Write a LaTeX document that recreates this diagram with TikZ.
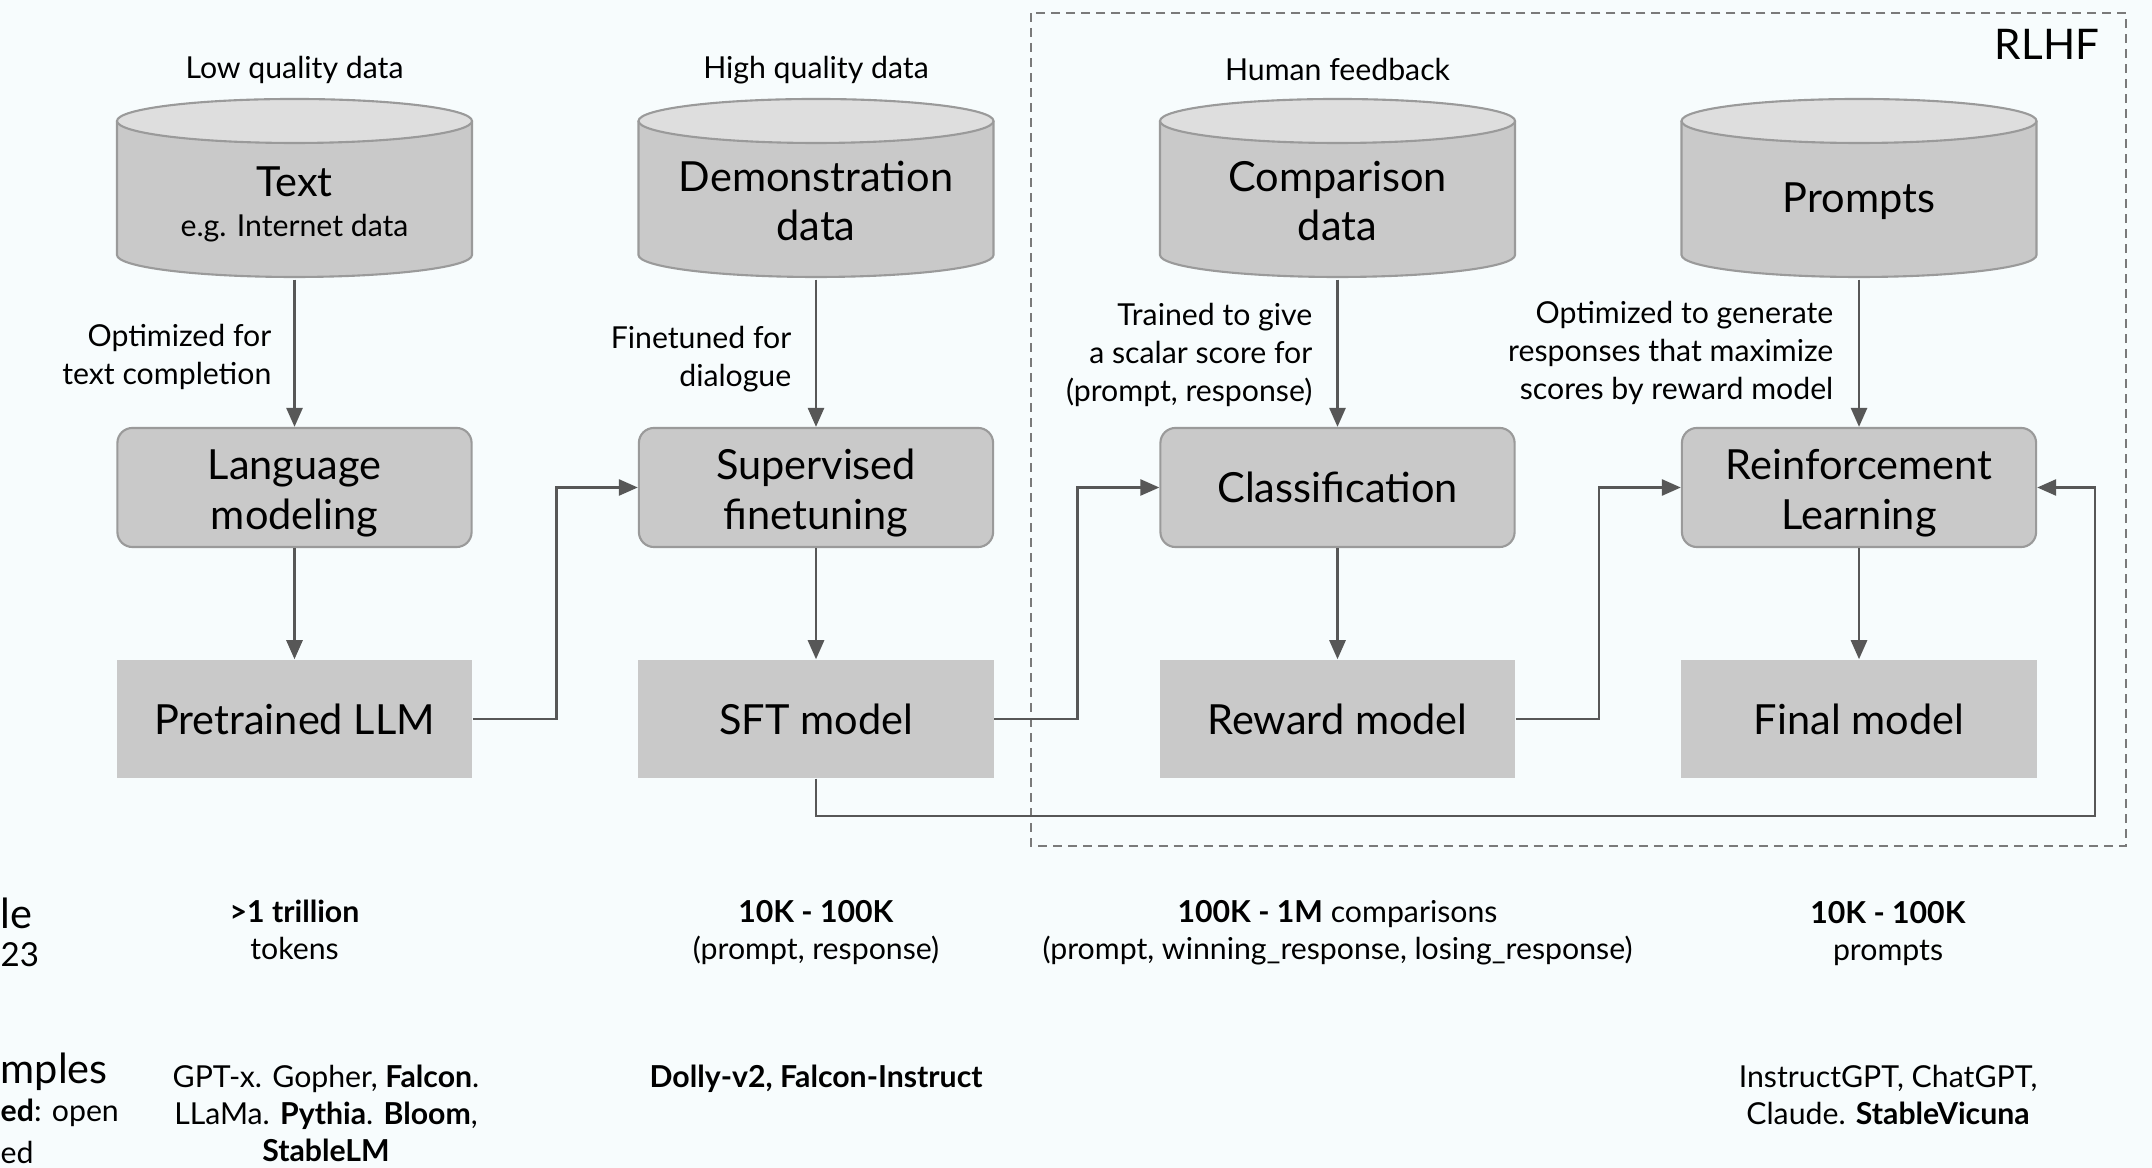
\documentclass[tikz,border=0pt]{standalone}
\usepackage{fontspec}
\setmainfont{Lato}
\usetikzlibrary{arrows.meta}

\definecolor{pagebg}{HTML}{F7FCFD}
\definecolor{boxfill}{HTML}{C9C9C9}
\definecolor{boxline}{HTML}{9A9A9A}
\definecolor{cyltopfill}{HTML}{DEDEDE}
\definecolor{wire}{HTML}{575757}
\definecolor{frame}{HTML}{7A7A7A}

% text sizes (1 unit = 0.01cm)
\newcommand\fbig{\fontsize{11.8pt}{14.1pt}\selectfont}
\newcommand\fsmall{\fontsize{8.6pt}{10.8pt}\selectfont}
\newcommand\fnote{\fontsize{8.6pt}{10.5pt}\selectfont}
% taller first line pushes two-line labels slightly down in their boxes
\newcommand\toprule{\rule{0pt}{11.8pt}}

\tikzset{
  stagebox/.style={rectangle, rounded corners=0.15cm, fill=boxfill, draw=boxline,
    line width=0.6pt, minimum width=3.54cm, minimum height=1.19cm,
    align=center, font=\fbig, inner sep=0pt},
  modelbox/.style={rectangle, fill=boxfill, minimum width=3.55cm,
    minimum height=1.18cm, align=center, font=\fbig, inner sep=0pt},
  cylnodestyle/.style={rectangle, minimum width=3.55cm, minimum height=1.56cm,
    align=center, inner sep=0pt, font=\fbig},
  cylbody/.style={fill=boxfill},
  cylline/.style={draw=boxline, line width=0.6pt},
  flow/.style={draw=wire, line width=0.75pt,
    -{Triangle[length=0.19cm,width=0.16cm]}},
  edgenote/.style={align=right, font=\fsmall, anchor=east, inner sep=0pt},
  topnote/.style={font=\fsmall, inner sep=0pt},
  infonote/.style={align=center, font=\fnote, inner sep=0pt},
}

% cylinder: name, centre x, text
\newcommand\cylnode[3]{%
  \fill[cylbody] (#2-177.5,121) -- (#2-177.5,255)
    arc[start angle=180,end angle=0,x radius=177.5,y radius=22]
    -- (#2+177.5,121) -- cycle;
  \draw[cylline] (#2-177.5,121) -- (#2-177.5,255)
    arc[start angle=180,end angle=0,x radius=177.5,y radius=22]
    -- (#2+177.5,121);
  \draw[cylline,fill=cyltopfill] (#2,121) ellipse[x radius=177.5,y radius=22];
  \node[cylnodestyle] (#1) at (#2,201) {#3};
}

\begin{document}
\begin{tikzpicture}[x=0.01cm,y=-0.01cm]
  \useasboundingbox (0,0) rectangle (2152,1168);
  \fill[pagebg] (0,0) rectangle (2152,1168);

  % RLHF frame
  \draw[frame, line width=0.6pt, dash pattern=on 0.09cm off 0.06cm]
    (1031,13) rectangle (2126,846);
  \node[font=\fontsize{12pt}{14pt}\selectfont, inner sep=0pt] (rlhf) at (2047,44) {RLHF};

  % data stores
  \cylnode{txt}{294.5}{\rule{0pt}{10.6pt}Text\\[-2.7pt]{\fsmall e.g. Internet data}}
  \cylnode{demo}{816}{Demonstration\\data}
  \cylnode{comp}{1337.5}{Comparison\\data}
  \cylnode{prm}{1859}{Prompts}

  \node[topnote] (lq) at (294.5,70) {Low quality data};
  \node[topnote] (hq) at (816,70) {High quality data};
  \node[topnote] (hf) at (1337.5,70) {Human feedback};

  % training stages
  \node[stagebox] (lm)  at (294.5,487.5)  {\toprule Language\\modeling};
  \node[stagebox] (sf)  at (816,487.5)    {\toprule Supervised\\finetuning};
  \node[stagebox] (cls) at (1337.5,487.5) {Classification};
  \node[stagebox] (rl)  at (1859,487.5)   {\toprule Reinforcement\\Learning};

  % resulting models
  \node[modelbox] (pre) at (294.5,719)  {Pretrained LLM};
  \node[modelbox] (sft) at (816,719)    {SFT model};
  \node[modelbox] (rm)  at (1337.5,719) {Reward model};
  \node[modelbox] (fin) at (1859,719)   {Final model};

  % vertical flows
  \draw[flow] (txt.south) -- (lm.north);
  \draw[flow] (demo.south) -- (sf.north);
  \draw[flow] (comp.south) -- (cls.north);
  \draw[flow] (prm.south) -- (rl.north);
  \draw[flow] (lm.south) -- (pre.north);
  \draw[flow] (sf.south) -- (sft.north);
  \draw[flow] (cls.south) -- (rm.north);
  \draw[flow] (rl.south) -- (fin.north);

  % hand-over between columns
  \draw[flow] (pre.east) -- ++(84,0) |- (sf.west);
  \draw[flow] (sft.east) -- ++(83,0) |- (cls.west);
  \draw[flow] (rm.east) -- ++(83,0) |- (rl.west);
  \coordinate (loop) at (2095,816);
  \draw[flow] (sft.south) |- (loop) |- (rl.east);

  % flow annotations
  \node[edgenote] (n1) at (272,357) {Optimized for\\text completion};
  \node[edgenote] (n2) at (792,359) {Finetuned for\\dialogue};
  \node[edgenote] (n3) at (1313,355) {Trained to give\\a scalar score for\\(prompt, response)};
  \node[edgenote] (n4) at (1834,353) {Optimized to generate\\responses that maximize\\scores by reward model};

  % scale row
  \node[anchor=west, font=\fbig, inner sep=0pt] (sc1) at (0,913) {le};
  \node[anchor=west, font=\fontsize{9.4pt}{11pt}\selectfont, inner sep=0pt] (sc2) at (0,955) {23};
  \node[infonote] (s1) at (294.5,930) {\textbf{>1 trillion}\\tokens};
  \node[infonote] (s2) at (816,933) {\textbf{10K - 100K}\\(prompt, response)};
  \node[infonote] (s3) at (1337.5,933) {\textbf{100K - 1M} comparisons\\(prompt, winning\_response, losing\_response)};
  \node[infonote] (s4) at (1888,934) {\textbf{10K - 100K}\\prompts};

  % examples row
  \node[anchor=west, font=\fbig, inner sep=0pt] (ex1) at (0,1072) {mples};
  \node[anchor=west, font=\fsmall, inner sep=0pt] (ex2) at (0,1113) {\textbf{ed}: open};
  \node[anchor=west, font=\fsmall, inner sep=0pt] (ex3) at (0,1152) {ed};
  \node[infonote] (e1) at (326,1113) {GPT-x. Gopher, \textbf{Falcon}.\\LLaMa. \textbf{Pythia}. \textbf{Bloom},\\\textbf{StableLM}};
  \node[infonote] (e2) at (816,1079) {\textbf{Dolly-v2, Falcon-Instruct}};
  \node[infonote] (e4) at (1888,1095) {InstructGPT, ChatGPT,\\Claude. \textbf{StableVicuna}};
\end{tikzpicture}
\end{document}
